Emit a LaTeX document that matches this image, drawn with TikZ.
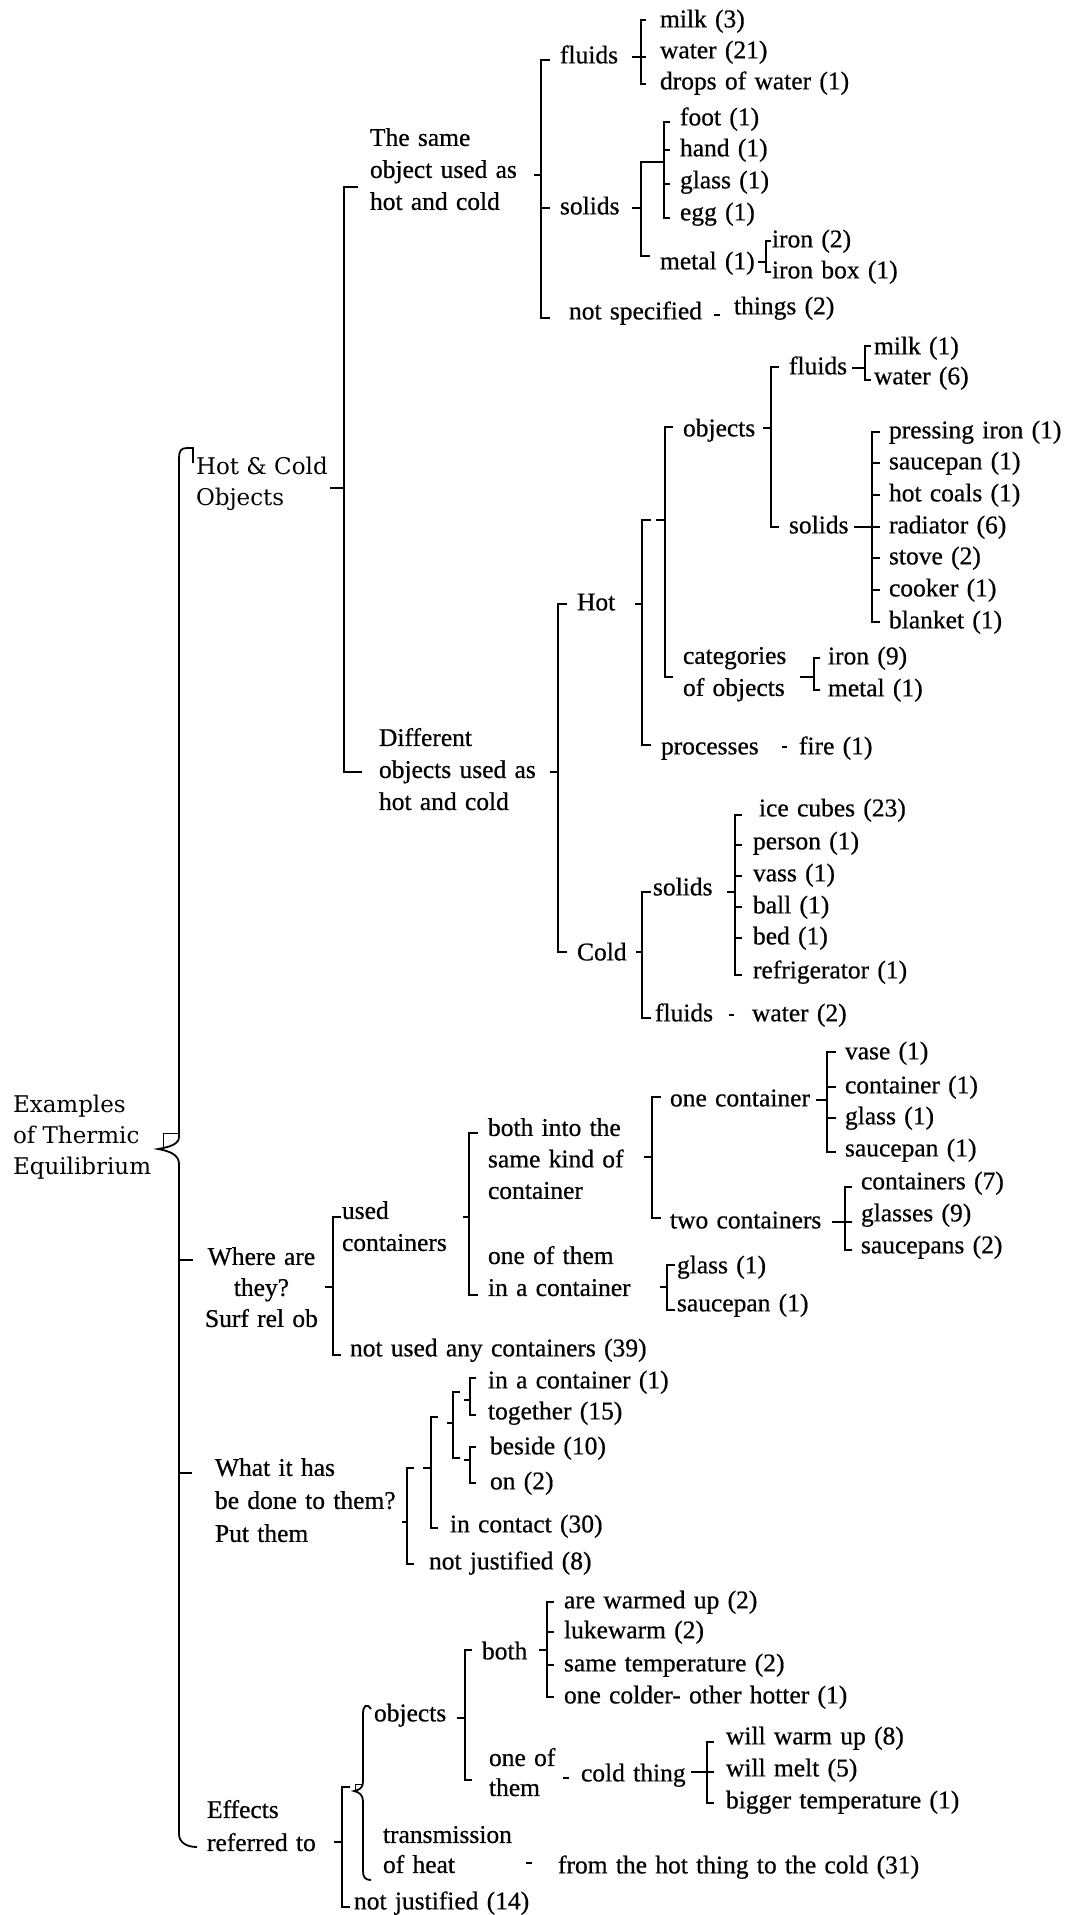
\documentclass[tikz,border=0pt]{standalone}
\usepackage{fontspec}
\setmainfont{Liberation Serif}[WordSpace=1.3, FakeBold=0.6]
\newfontfamily\centfont{DejaVu Serif}
\newcommand\lblfont{\fontsize{25.5}{32}\selectfont}
\newcommand\topstrut{\rule{0pt}{17.9pt}}
\newcommand\ctopstrut{\rule{0pt}{17.5pt}}
\begin{document}
\begin{tikzpicture}[x=1pt, y=-1pt, line width=1.8pt, line join=miter,
  lbl/.style={anchor=west, inner sep=0pt, outer sep=0pt, font=\lblfont, text height=17.3pt, text depth=4.6pt},
  mlbl/.style={anchor=north west, inner sep=0pt, outer sep=0pt, font=\lblfont, align=left},
  clbl/.style={anchor=north west, inner sep=0pt, outer sep=0pt, font=\centfont\fontsize{23}{31}\selectfont, align=left},
  boxline/.style={line width=0.8pt}]

\fill[white] (0,0) rectangle (1079,1915);
\useasboundingbox (0,0) rectangle (1079,1915);

% ---------- root and main spine ----------
\node[clbl] (root) at (13,1095) {\ctopstrut Examples\\of Thermic\\Equilibrium};
\draw (193,463) -- (193,448) -- (187,448) .. controls (181,448) and (179,451) .. (179,458)
      -- (179,1137) .. controls (179,1144) and (170,1147) .. (158,1149)
      .. controls (170,1151) and (179,1155) .. (179,1164)
      -- (179,1834) .. controls (179,1842) and (186,1847) .. (197,1847);
\draw[boxline] (163,1148) -- (163,1133) -- (179,1133);
\draw (179,1260) -- (193,1260);
\draw (179,1473) -- (192,1473);

% ---------- Hot & Cold Objects ----------
\node[clbl] (hco) at (196,457) {\ctopstrut Hot \& Cold\\Objects};
\draw (330,488) -- (344,488);
\draw (358,187) -- (344,187) -- (344,772) -- (362,772);

% the same object
\node[mlbl] (same) at (370,128) {\topstrut The same\\object used as\\hot and cold};
\draw (534,175) -- (541,175);
\draw (550,60) -- (541,60) -- (541,318) -- (550,318);
\draw (541,208) -- (550,208);

\node[lbl] (flA) at (560,57) {fluids};
\node[lbl] (soA) at (560,208) {solids};
\node[lbl] (nsA) at (569,313) {not specified};

\draw (632,57) -- (646,57);
\draw (646,20) -- (641,20) -- (641,84) -- (646,84);
\node[lbl] (milkA) at (660,21) {milk (3)};
\node[lbl] (waterA) at (660,52) {water (21)};
\node[lbl] (dropsA) at (660,83) {drops of water (1)};

\draw (632,208) -- (641,208);
\draw (664,162) -- (641,162) -- (641,256) -- (650,256);
\draw (670,122) -- (664,122) -- (664,218) -- (670,218);
\draw (664,150) -- (670,150);
\draw (664,184) -- (670,184);
\node[lbl] (footA) at (680,119) {foot (1)};
\node[lbl] (handA) at (680,150) {hand (1)};
\node[lbl] (glassA) at (680,182) {glass (1)};
\node[lbl] (eggA) at (680,214) {egg (1)};
\node[lbl] (metalA) at (660,263) {metal (1)};

\draw (758,262) -- (766,262);
\draw (771,241) -- (766,241) -- (766,272) -- (771,272);
\node[lbl] (ironA) at (772,241) {iron (2)};
\node[lbl] (ironboxA) at (772,272) {iron box (1)};

\draw (714,315) -- (720,315);
\node[lbl] (thingsA) at (734,308) {things (2)};

% different objects
\node[mlbl] (diff) at (379,728) {\topstrut Different\\objects used as\\hot and cold};
\draw (550,772) -- (558,772);
\draw (567,604) -- (558,604) -- (558,952) -- (567,952);

% hot
\node[lbl] (hot) at (577,604) {Hot};
\draw (635,604) -- (642,604);
\draw (651,520) -- (642,520) -- (642,745) -- (651,745);
\draw (656,520) -- (665,520);
\draw (673,427) -- (665,427) -- (665,677) -- (673,677);

\node[lbl] (objH) at (683,430) {objects};
\draw (763,428) -- (771,428);
\draw (779,367) -- (771,367) -- (771,527) -- (779,527);

\node[lbl] (flH) at (789,368) {fluids};
\draw (852,368) -- (865,368);
\draw (871,346) -- (865,346) -- (865,380) -- (871,380);
\node[lbl] (milkH) at (874,348) {milk (1)};
\node[lbl] (waterH) at (874,378) {water (6)};

\node[lbl] (solH) at (789,527) {solids};
\draw (854,527) -- (880,527);
\draw (880,432) -- (872,432) -- (872,622) -- (880,622);
\foreach \yy in {463,495,558,590} \draw (872,\yy) -- (880,\yy);
\node[lbl] (pressH) at (889,432) {pressing iron (1)};
\node[lbl] (sauceH) at (889,463) {saucepan (1)};
\node[lbl] (coalsH) at (889,495) {hot coals (1)};
\node[lbl] (radH) at (889,527) {radiator (6)};
\node[lbl] (stoveH) at (889,558) {stove (2)};
\node[lbl] (cookerH) at (889,590) {cooker (1)};
\node[lbl] (blanketH) at (889,622) {blanket (1)};

\node[mlbl] (catH) at (683,646) {\topstrut categories\\of objects};
\draw (800,677) -- (814,677);
\draw (820,658) -- (814,658) -- (814,690) -- (820,690);
\node[lbl] (ironH) at (828,658) {iron (9)};
\node[lbl] (metalH) at (828,690) {metal (1)};

\node[lbl] (procH) at (661,748) {processes};
\draw (782,747) -- (787,747);
\node[lbl] (fireH) at (799,748) {fire (1)};

% cold
\node[lbl] (cold) at (577,954) {Cold};
\draw (636,952) -- (642,952);
\draw (651,892) -- (642,892) -- (642,1018) -- (651,1018);

\node[lbl] (solC) at (653,889) {solids};
\draw (727,892) -- (735,892);
\draw (742,815) -- (735,815) -- (735,975) -- (742,975);
\foreach \yy in {845,876,907,938} \draw (735,\yy) -- (742,\yy);
\node[lbl] (iceC) at (759,810) {ice cubes (23)};
\node[lbl] (personC) at (753,843) {person (1)};
\node[lbl] (vassC) at (753,875) {vass (1)};
\node[lbl] (ballC) at (753,907) {ball (1)};
\node[lbl] (bedC) at (753,938) {bed (1)};
\node[lbl] (fridgeC) at (753,972) {refrigerator (1)};

\node[lbl] (flC) at (655,1015) {fluids};
\draw (729,1015) -- (734,1015);
\node[lbl] (waterC) at (752,1015) {water (2)};

% ---------- Where are they? ----------
\node[mlbl, align=center, font=\fontsize{25.5}{31}\selectfont] (where) at (205,1247) {\topstrut Where are\\they?\\Surf rel ob};
\draw (325,1287) -- (333,1287);
\draw (341,1217) -- (333,1217) -- (333,1355) -- (341,1355);

\node[mlbl] (used) at (342,1201) {\topstrut used\\containers};
\node[lbl] (notused) at (350,1350) {not used any containers (39)};
\draw (463,1217) -- (469,1217);
\draw (478,1133) -- (469,1133) -- (469,1295) -- (478,1295);

\node[mlbl, font=\fontsize{25.5}{31.5}\selectfont] (bothW) at (488,1118) {\topstrut both into the\\same kind of\\container};
\draw (644,1157) -- (652,1157);
\draw (661,1097) -- (652,1097) -- (652,1218) -- (661,1218);

\node[lbl] (onec) at (670,1100) {one container};
\draw (816,1100) -- (827,1100);
\draw (836,1052) -- (827,1052) -- (827,1152) -- (836,1152);
\draw (827,1087) -- (836,1087);
\draw (827,1118) -- (836,1118);
\node[lbl] (vaseW) at (845,1053) {vase (1)};
\node[lbl] (contW) at (845,1087) {container (1)};
\node[lbl] (glassW) at (845,1118) {glass (1)};
\node[lbl] (sauceW) at (845,1150) {saucepan (1)};

\node[lbl] (twoc) at (670,1222) {two containers};
\draw (832,1222) -- (852,1222);
\draw (852,1187) -- (845,1187) -- (845,1250) -- (852,1250);
\node[lbl] (contsW) at (861,1183) {containers (7)};
\node[lbl] (glassesW) at (861,1215) {glasses (9)};
\node[lbl] (saucesW) at (861,1247) {saucepans (2)};

\node[mlbl] (oneofW) at (488,1246) {\topstrut one of them\\in a container};
\draw (660,1287) -- (667,1287);
\draw (675,1265) -- (667,1265) -- (667,1310) -- (675,1310);
\node[lbl] (glassW2) at (677,1267) {glass (1)};
\node[lbl] (sauceW2) at (677,1305) {saucepan (1)};

% ---------- What it has been done ----------
\node[mlbl, font=\fontsize{25.5}{33}\selectfont] (what) at (215,1458) {\topstrut What it has\\be done to them?\\Put them};
\draw (402,1522) -- (407,1522);
\draw (414,1468) -- (407,1468) -- (407,1564) -- (414,1564);
\draw (423,1468) -- (431,1468);
\draw (438,1417) -- (431,1417) -- (431,1528) -- (438,1528);
\draw (447,1423) -- (453,1423);
\draw (460,1392) -- (453,1392) -- (453,1458) -- (460,1458);
\draw (464,1400) -- (470,1400);
\draw (476,1378) -- (470,1378) -- (470,1415) -- (476,1415);
\draw (464,1460) -- (470,1460);
\draw (476,1447) -- (470,1447) -- (470,1483) -- (476,1483);
\node[lbl] (inacP) at (488,1382) {in a container (1)};
\node[lbl] (togetherP) at (488,1413) {together (15)};
\node[lbl] (besideP) at (490,1448) {beside (10)};
\node[lbl] (onP) at (490,1483) {on (2)};
\node[lbl] (contactP) at (450,1526) {in contact (30)};
\node[lbl] (njP) at (429,1563) {not justified (8)};

% ---------- Effects referred to ----------
\node[mlbl, font=\fontsize{25.5}{33}\selectfont] (effects) at (207,1800) {\topstrut Effects\\referred to};
\draw (334,1842) -- (342,1842);
\draw (350,1787) -- (342,1787) -- (342,1907) -- (350,1907);
\draw (371,1709) .. controls (367,1703) and (363,1705) .. (363,1714) -- (363,1782)
      .. controls (363,1788) and (359,1790) .. (354,1791)
      .. controls (359,1792) and (363,1795) .. (363,1801) -- (363,1871)
      .. controls (363,1877) and (365,1880) .. (371,1880);
\draw[boxline] (355,1792) -- (355,1784) -- (363,1784);

\node[lbl] (objE) at (374,1715) {objects};
\draw (457,1718) -- (465,1718);
\draw (472,1650) -- (465,1650) -- (465,1780) -- (472,1780);

\node[lbl] (bothE) at (482,1653) {both};
\draw (539,1650) -- (547,1650);
\draw (554,1602) -- (547,1602) -- (547,1697) -- (554,1697);
\draw (547,1632) -- (554,1632);
\draw (547,1665) -- (554,1665);
\node[lbl] (warmE) at (564,1602) {are warmed up (2)};
\node[lbl] (lukeE) at (564,1632) {lukewarm (2)};
\node[lbl] (sameE) at (564,1665) {same temperature (2)};
\node[lbl] (colderE) at (564,1697) {one colder- other hotter (1)};

\node[mlbl, font=\fontsize{25.5}{30}\selectfont] (oneofE) at (489,1748) {\topstrut one of\\them};
\draw (563,1778) -- (569,1778);
\node[lbl] (coldE) at (581,1775) {cold thing};
\draw (691,1772) -- (714,1772);
\draw (714,1742) -- (707,1742) -- (707,1803) -- (714,1803);
\node[lbl] (wwuE) at (726,1738) {will warm up (8)};
\node[lbl] (meltE) at (726,1770) {will melt (5)};
\node[lbl] (biggerE) at (726,1802) {bigger temperature (1)};

\node[mlbl, font=\fontsize{25.5}{30}\selectfont] (transE) at (383,1825) {\topstrut transmission\\of heat};
\draw (526,1863) -- (532,1863);
\node[lbl] (fromE) at (558,1867) {from the hot thing to the cold (31)};

\node[lbl] (njE) at (354,1903) {not justified (14)};
\end{tikzpicture}
\end{document}
